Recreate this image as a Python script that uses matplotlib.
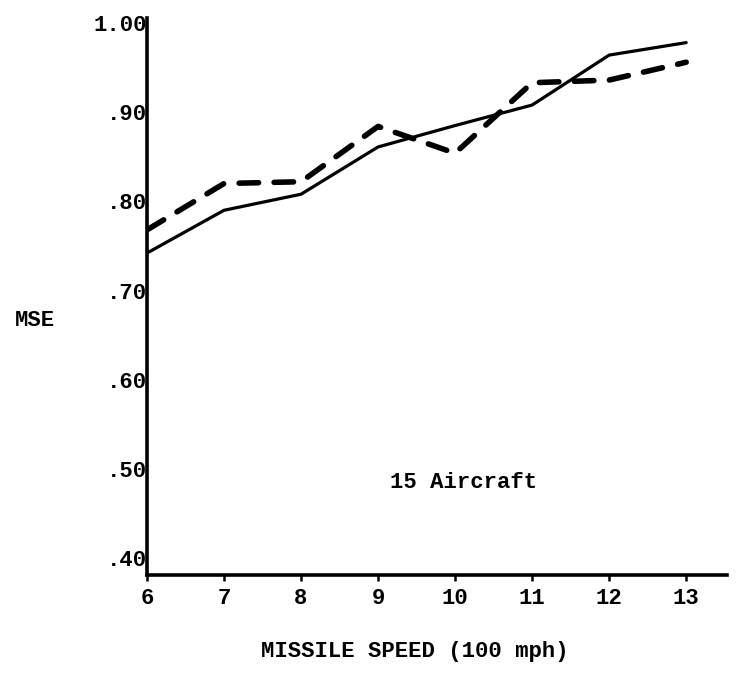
import matplotlib
matplotlib.use("Agg")
import matplotlib.pyplot as plt

# Data
speeds = [6, 7, 8, 9, 10, 11, 12, 13]
mse_solid = [0.742, 0.790, 0.808, 0.861, 0.885, 0.908, 0.964, 0.978]
mse_dashed = [0.768, 0.820, 0.822, 0.884, 0.854, 0.933, 0.936, 0.956]
y_ticks = [0.40, 0.50, 0.60, 0.70, 0.80, 0.90, 1.00]
y_tick_labels = [".40", ".50", ".60", ".70", ".80", ".90", "1.00"]
x_ticks = [6, 7, 8, 9, 10, 11, 12, 13]
x_tick_labels = ["6", "7", "8", "9", "10", "11", "12", "13"]

FONT = ["Liberation Mono", "DejaVu Sans Mono"]

fig = plt.figure(figsize=(7.36, 6.74), dpi=100)
ax = fig.add_axes([147 / 736, 1 - 575 / 674, 580 / 736, 557 / 674])

ax.plot(speeds, mse_solid, color="black", linewidth=2.3, solid_joinstyle="round",
        solid_capstyle="round")
ax.plot(speeds, mse_dashed, color="black", linewidth=4.0, linestyle=(0, (3.5, 2.8)),
        dash_capstyle="round", dash_joinstyle="round")

ax.set_xlim(6, 13.53)
ax.set_ylim(0.381, 1.0056)

for s in ["top", "right"]:
    ax.spines[s].set_visible(False)
for s in ["left", "bottom"]:
    ax.spines[s].set_linewidth(2.6)
    ax.spines[s].set_color("black")
    ax.spines[s].set_capstyle("projecting")

ax.set_yticks(y_ticks)
ax.set_yticklabels(y_tick_labels, fontfamily=FONT, fontweight="bold", fontsize=16)
ax.set_xticks(x_ticks)
ax.set_xticklabels(x_tick_labels, fontfamily=FONT, fontweight="bold", fontsize=16)
ax.tick_params(axis="y", length=0, pad=0)
ax.tick_params(axis="x", length=4, width=1.8, direction="out", pad=5)

ax.text(9.15, 0.485, "15 Aircraft", fontfamily=FONT, fontweight="bold",
        fontsize=16, ha="left", va="center")

fig.text(15 / 736, 1 - 320 / 674, "MSE", fontfamily=FONT, fontweight="bold",
         fontsize=16, ha="left", va="center")
fig.text(415 / 736, 1 - 652 / 674, "MISSILE SPEED (100 mph)", fontfamily=FONT,
         fontweight="bold", fontsize=16, ha="center", va="center")

fig.savefig("out.png", dpi=100)
